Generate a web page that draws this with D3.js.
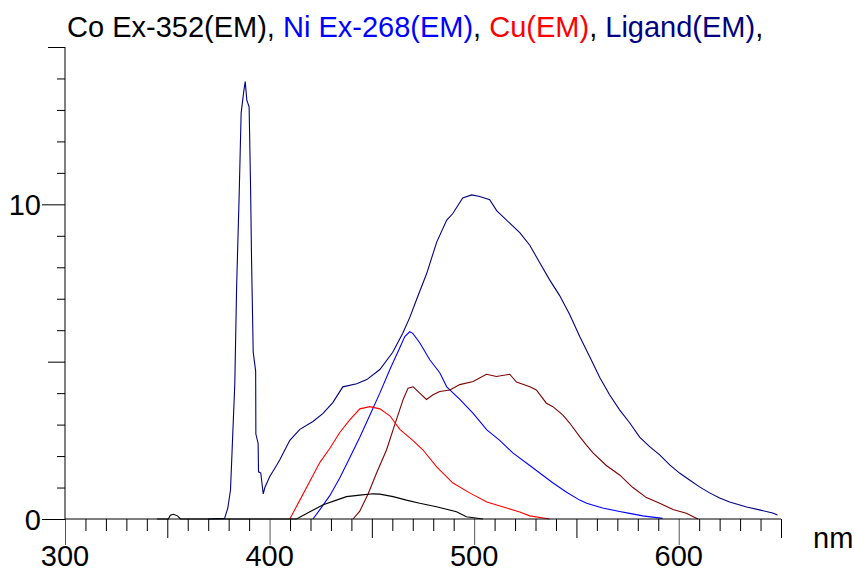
<!DOCTYPE html>
<html>
<head>
<meta charset="utf-8">
<script src="https://cdn.jsdelivr.net/npm/d3@7"></script>
<style>
  html, body { margin: 0; padding: 0; background: #fff; }
  svg { display: block; }
  text { font-family: "Liberation Sans", Arial, sans-serif; }
</style>
</head>
<body>
<svg id="chart" width="854" height="573"></svg>
<script>
// ---------- data ----------
const titleParts = ["Co Ex-352(EM)", ", ", "Ni Ex-268(EM)", ", ", "Cu(EM)", ", ", "Ligand(EM)", ","];
const titleColors = ["#000000", "#000000", "#0000ff", "#000000", "#ff0000", "#000000", "#000080", "#000000"];

const xLabelTicks = [300, 400, 500, 600];
const yLabelTicks = [0, 10];
const xUnitLabel = "nm";

const coNm  = [345, 350.5, 351.5, 353, 355, 356.5, 413.2, 419.7, 426.2, 432.7, 437.6, 444.1, 450.5, 453.9, 460.4, 466.9, 473.4, 481.6, 491.4, 496.2, 504.3];
const coVal = [0, 0, 0.12, 0.15, 0.1, 0, 0, 0.23, 0.45, 0.6, 0.71, 0.76, 0.8, 0.79, 0.71, 0.6, 0.5, 0.39, 0.23, 0.07, 0];

const niNm  = [421.2, 424.6, 429.5, 434.3, 439.2, 444.1, 449.0, 453.9, 458.8, 463.7, 466.1, 468.5, 470.0, 473.4, 478.3, 483.2, 486.6, 493.0, 499.3, 506.2, 512.5, 518.9, 527.2, 538.4, 545.2, 551.6, 555.0, 562.8, 571.1, 576.0, 582.4, 592.1];
const niVal = [0, 0.3, 0.75, 1.3, 1.95, 2.6, 3.3, 4.0, 4.75, 5.45, 5.8, 5.95, 5.9, 5.6, 5.06, 4.65, 4.2, 3.8, 3.37, 2.83, 2.5, 2.1, 1.7, 1.15, 0.85, 0.6, 0.5, 0.35, 0.24, 0.18, 0.1, 0.02];

const cuNm  = [409.9, 414.8, 419.7, 424.6, 429.5, 434.3, 439.2, 444.1, 449.0, 453.9, 458.8, 463.7, 470.0, 474.9, 481.7, 489.5, 497.8, 506.2, 515.9, 522.3, 527.2, 536.9];
const cuVal = [0, 0.6, 1.2, 1.8, 2.25, 2.75, 3.15, 3.5, 3.57, 3.5, 3.28, 2.85, 2.5, 2.2, 1.66, 1.15, 0.83, 0.54, 0.35, 0.22, 0.1, 0];

const ligNm  = [370, 378, 379.6, 380.9, 381.7, 383.0, 383.9, 385.1, 386.1, 387.4, 388.1, 388.9, 390.0, 390.7, 391.2, 392.0, 393.2, 393.3, 394.4, 394.6, 395.7, 396.9, 397.7, 400.1, 403.4, 405.0, 409.9, 414.8, 421.2, 426.0, 430.9, 435.8, 442.6, 447.5, 453.9, 460.2, 465.1, 468.5, 472.0, 476.8, 481.7, 486.6, 489.5, 494.4, 498.8, 502.7, 507.6, 511.0, 517.4, 522.3, 527.2, 532.0, 536.9, 541.8, 546.7, 551.6, 556.5, 561.4, 566.2, 571.1, 576.0, 580.9, 585.8, 590.7, 595.6, 600.4, 605.3, 610.2, 615.1, 620.0, 624.9, 633.2, 639.5, 645.9, 648.3];
const ligVal = [0, 0.02, 0.35, 0.92, 2.2, 4.3, 7.4, 10.2, 12.9, 13.6, 13.9, 13.3, 13.1, 10.6, 8.2, 5.3, 4.7, 2.7, 2.4, 1.5, 1.46, 0.8, 1.0, 1.35, 1.7, 1.88, 2.5, 2.85, 3.1, 3.35, 3.7, 4.2, 4.3, 4.43, 4.75, 5.3, 5.9, 6.4, 7.0, 7.8, 8.8, 9.5, 9.7, 10.2, 10.3, 10.25, 10.15, 9.8, 9.4, 9.1, 8.7, 8.15, 7.6, 7.1, 6.5, 5.8, 5.16, 4.5, 3.95, 3.47, 3.06, 2.6, 2.3, 2.04, 1.72, 1.46, 1.24, 1.02, 0.83, 0.67, 0.54, 0.38, 0.29, 0.19, 0.13];

const extraNm  = [440.8, 444.1, 448.2, 452.3, 457.2, 461.2, 465.3, 467.7, 470.2, 473.4, 476.7, 479.9, 483.2, 488.1, 493.0, 499.5, 506.0, 510.9, 517.4, 520.7, 527.2, 530.4, 535.3, 538.5, 543.4, 546.7, 551.6, 554.9, 558.1, 564.6, 571.1, 577.6, 584.2, 590.7, 597.2, 603.7, 609.4];
const extraVal = [0, 0.25, 0.8, 1.46, 2.2, 3.0, 3.8, 4.16, 4.2, 4.0, 3.8, 3.95, 4.05, 4.1, 4.27, 4.37, 4.6, 4.53, 4.6, 4.35, 4.2, 4.1, 3.68, 3.57, 3.3, 3.05, 2.62, 2.35, 2.1, 1.7, 1.4, 1.0, 0.68, 0.5, 0.3, 0.18, 0];

const seriesNames  = ["Co", "Ni", "Cu", "Ligand", "Extra"];
const seriesColors = ["#000000", "#0000ff", "#ff0000", "#000080", "#800000"];

// ---------- drawing ----------
const svg = d3.select("#chart");
const x = d3.scaleLinear().domain([300, 650]).range([65, 781]);
const y = d3.scaleLinear().domain([0, 15]).range([519, 47]);

// title
const title = svg.append("text").attr("x", 67).attr("y", 37).attr("font-size", 29);
titleParts.forEach((t, i) => title.append("tspan").attr("fill", titleColors[i]).text(t));

// series
const series = [
  [coNm, coVal], [niNm, niVal], [cuNm, cuVal], [ligNm, ligVal], [extraNm, extraVal]
];
const line = d3.line().x(d => x(d[0])).y(d => y(d[1])).curve(d3.curveLinear);
const drawOrder = [3, 1, 4, 2, 0];
drawOrder.forEach(i => {
  const [nm, val] = series[i];
  svg.append("path")
    .datum(nm.map((n, k) => [n, val[k]]))
    .attr("fill", "none")
    .attr("stroke", seriesColors[i])
    .attr("stroke-width", 1.1)
    .attr("stroke-linejoin", "miter")
    .attr("d", line);
});

// x axis ticks
function xAxisLayer(values, size, color) {
  const g = svg.append("g").attr("transform", "translate(0,519)")
    .call(d3.axisBottom(x).tickValues(values).tickSize(size).tickFormat(""));
  g.select(".domain").remove();
  g.selectAll("line").attr("stroke", color).attr("stroke-width", 1);
}
xAxisLayer(d3.range(300, 651, 10).filter(v => v % 50 !== 0), 12, "#000");
xAxisLayer([350, 450, 550, 650], 19, "#000");
xAxisLayer(xLabelTicks, 26, "#555");

// y axis ticks
function yAxisLayer(values, size) {
  const g = svg.append("g").attr("transform", "translate(65,0)")
    .call(d3.axisLeft(y).tickValues(values).tickSize(size).tickFormat(""));
  g.select(".domain").remove();
  g.selectAll("line").attr("stroke", "#000").attr("stroke-width", 1);
}
yAxisLayer(d3.range(0, 16).filter(v => v % 5 !== 0), 8);
yAxisLayer([5, 15], 17);
yAxisLayer(yLabelTicks, 23);

// axis lines
svg.append("line").attr("x1", x(300)).attr("x2", x(650)).attr("y1", y(0)).attr("y2", y(0))
  .attr("stroke", "#000").attr("stroke-width", 1);
svg.append("line").attr("x1", x(300)).attr("x2", x(300)).attr("y1", y(0)).attr("y2", y(15))
  .attr("stroke", "#000").attr("stroke-width", 1);

// tick labels
svg.selectAll(".xl").data(xLabelTicks).enter().append("text")
  .attr("x", d => x(d)).attr("y", 566).attr("text-anchor", "middle")
  .attr("font-size", 29).attr("fill", "#000").text(d => d);
svg.selectAll(".yl").data(yLabelTicks).enter().append("text")
  .attr("x", 41).attr("y", d => y(d) + 10.5).attr("text-anchor", "end")
  .attr("font-size", 29).attr("fill", "#000").text(d => d);
svg.append("text").attr("x", 813).attr("y", 548).attr("font-size", 29).attr("fill", "#000").text(xUnitLabel);
</script>
</body>
</html>
